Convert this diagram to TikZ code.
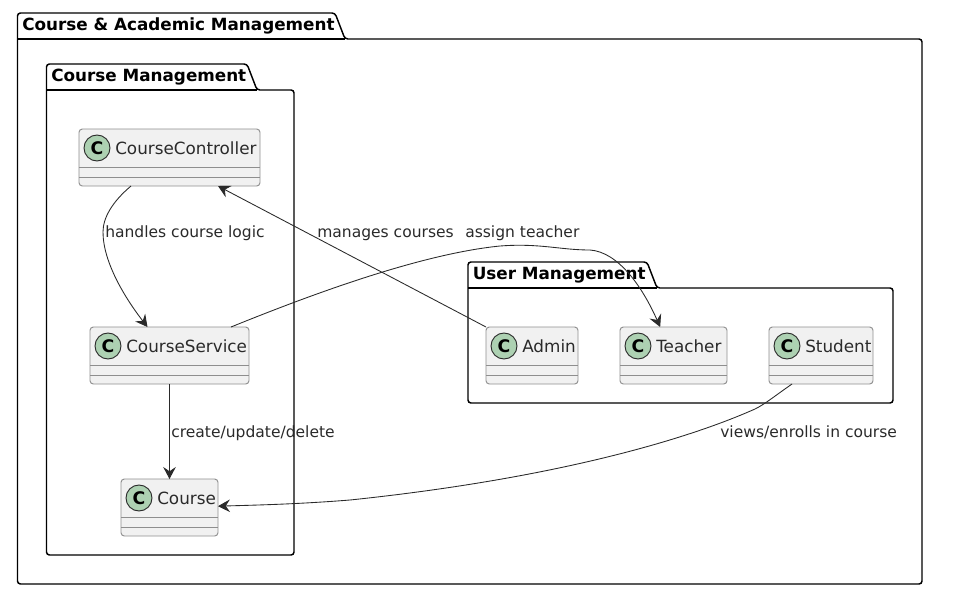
\documentclass[tikz,border=0pt]{standalone}
\usepackage{fontspec}
\setmainfont{DejaVu Sans}
\usetikzlibrary{arrows.meta}
\definecolor{boxfill}{HTML}{F1F1F1}
\definecolor{boxline}{HTML}{8E8E8E}
\definecolor{spotfill}{HTML}{ADD1B2}
\definecolor{inkline}{HTML}{2A2A2A}
\tikzset{
  package/.style = {draw=black, line width=1.1pt, rounded corners=2.2pt},
  pkgtitle/.style = {anchor=base west, inner sep=0pt, font=\bfseries\fontsize{12.6}{14}\selectfont},
  classbox/.style = {draw=boxline, fill=boxfill, line width=0.7pt, rounded corners=2.5pt, inner sep=0pt, outer sep=0pt, anchor=north west, minimum height=42.75pt},
  classline/.style = {draw=boxline, line width=0.7pt},
  spot/.style = {circle, draw=inkline, fill=spotfill, line width=0.7pt, inner sep=0pt, minimum size=19.5pt, font=\bfseries\fontsize{13}{13}\selectfont},
  classname/.style = {anchor=base west, inner sep=0pt, text=inkline, font=\fontsize{12.6}{15}\selectfont},
  edgelabel/.style = {anchor=base west, inner sep=0pt, text=inkline, font=\fontsize{11.65}{14}\selectfont},
  edge/.style = {draw=inkline, line width=0.65pt, -{Stealth[length=9pt, width=9.5pt, inset=3.2pt]}}
}
\begin{document}
\begin{tikzpicture}[x=0.75pt, y=-0.75pt]
    \useasboundingbox (0,0) rectangle (958,604);
    % packages
    \foreach \name/\xa/\ya/\xb/\yb/\tab/\txt in {
      academic/17.5/13/922/584/335/Course \& Academic Management,
      coursepkg/46.5/64/294/555/247/Course Management,
      userpkg/468/262/893/403/647/User Management}{
      \draw[package] (\xa,\ya+26) -- (\xa,\ya) -- (\tab,\ya) -- (\tab+10,\ya+26) -- (\xb,\ya+26) -- (\xb,\yb) -- (\xa,\yb) -- cycle;
      \draw[package, rounded corners=0pt, line width=0.9pt] (\xa,\ya+26) -- (\tab+10,\ya+26);
      \node[pkgtitle] (\name) at (\xa+4.5,\ya+17.5) {\txt};
    }
    % classes
    \foreach \name/\x/\y/\w/\txt in {
      ctrl/79/129/181/CourseController,
      service/90/327/159/CourseService,
      course/121/479/97/Course,
      admin/486/327/92/Admin,
      teacher/620/327/107/Teacher,
      student/769/327/104/Student}{
      \node[classbox, minimum width=\w*0.75pt] (\name) at (\x,\y) {};
      \draw[classline] ([yshift=-28.9pt]\name.north west) -- ([yshift=-28.9pt]\name.north east);
      \draw[classline] ([yshift=-36pt]\name.north west) -- ([yshift=-36pt]\name.north east);
      \node[spot] (\name-spot) at (\x+18,\y+19) {C};
      \node[classname] (\name-txt) at (\x+36,\y+25) {\txt};
    }
    % connectors
    \draw[edge] ([xshift=39pt]ctrl.south west) .. controls (112,202) and (103,218) .. (103,232)
      .. controls (103,262) and (125,298) .. ([xshift=-16.5pt]service.north);
    \draw[edge] (admin.north west) -- ([xshift=-31.5pt]ctrl.south east);
    \draw[edge] ([xshift=-13.5pt]service.north east) .. controls (310,295) and (420,254) .. (500,246)
      .. controls (540,243) and (560,250) .. (590,250)
      .. controls (618,252) and (642,286) .. ([xshift=-10pt]teacher.north);
    \draw[edge] (service.south) -- (course.north);
    \draw[edge] ([xshift=-21.75pt]student.south) .. controls (772,398) and (765,404) .. (755,409)
      .. controls (690,438) and (560,478) .. (350,500)
      .. controls (300,504) and (260,505) .. ([yshift=1pt]course.east);
    % labels
    \node[edgelabel] (logic) at (105,237) {handles course logic};
    \node[edgelabel] (manages) at (317,237) {manages courses};
    \node[edgelabel] (assign) at (465,237) {assign teacher};
    \node[edgelabel] (crud) at (171,437) {create/update/delete};
    \node[edgelabel] (enrolls) at (720,437) {views/enrolls in course};
  \end{tikzpicture}
\end{document}
